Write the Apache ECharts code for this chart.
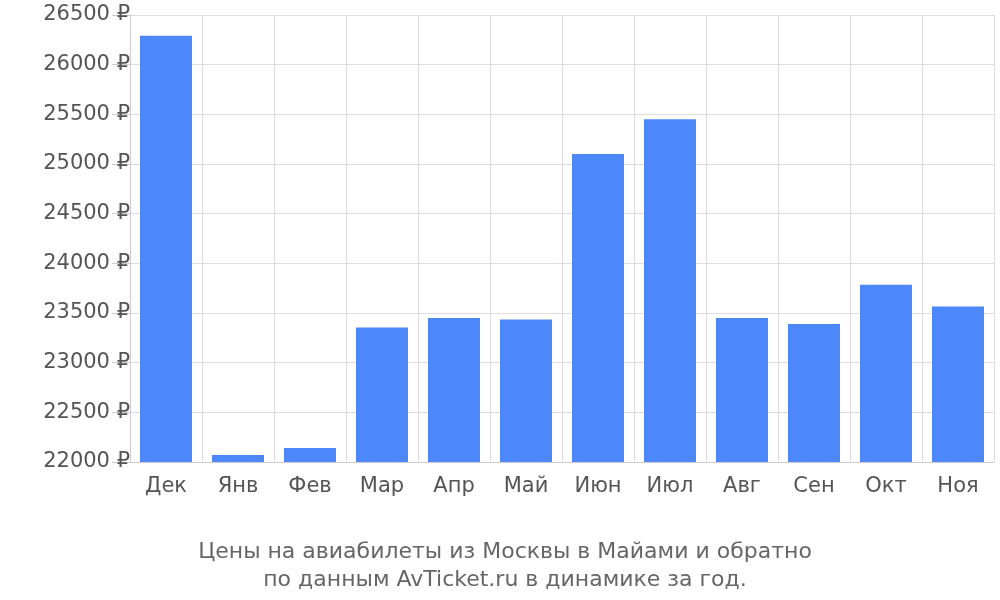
<!DOCTYPE html>
<html><head><meta charset="utf-8">
<script src="https://cdn.jsdelivr.net/npm/echarts@6/dist/echarts.min.js"></script>
<style>body{margin:0}#c{width:1000px;height:600px}</style></head>
<body><div id="c"></div>
<script>
const categories = ['Дек','Янв','Фев','Мар','Апр','Май','Июн','Июл','Авг','Сен','Окт','Ноя'];
const prices = [26290,22070,22140,23355,23450,23435,25100,25450,23450,23390,23785,23565];
const titleLines = ['Цены на авиабилеты из Москвы в Майами и обратно','по данным AvTicket.ru в динамике за год.'];
const chart = echarts.init(document.getElementById('c'));
chart.setOption({
  animation:false,
  title:{text:titleLines.join('\n'),left:500,textAlign:'center',top:533,
    textStyle:{fontFamily:'DejaVu Sans',fontSize:22,fontWeight:'normal',color:'#666',lineHeight:28}},
  grid:{left:130,right:6,top:15,bottom:138},
  xAxis:{type:'category',data:categories,
    axisLine:{lineStyle:{color:'#ccc'}},
    axisTick:{length:18,lineStyle:{color:'#ccc'}},
    splitLine:{show:true,lineStyle:{color:'#ddd'}},
    axisLabel:{fontFamily:'DejaVu Sans',fontSize:21,color:'#555',margin:14}},
  yAxis:{type:'value',min:22000,max:26500,interval:500,
    axisLine:{show:true,lineStyle:{color:'#ccc'}},
    axisTick:{show:true,length:18,inside:false,lineStyle:{color:'#ccc'}},
    splitLine:{lineStyle:{color:'#ddd'}},
    axisLabel:{fontFamily:'DejaVu Sans',fontSize:21,color:'#555',margin:0,formatter:v=>v+' ₽'}},
  series:[{type:'bar',data:prices,barWidth:52,itemStyle:{color:'#4d88fa'}}]
});
</script></body></html>
